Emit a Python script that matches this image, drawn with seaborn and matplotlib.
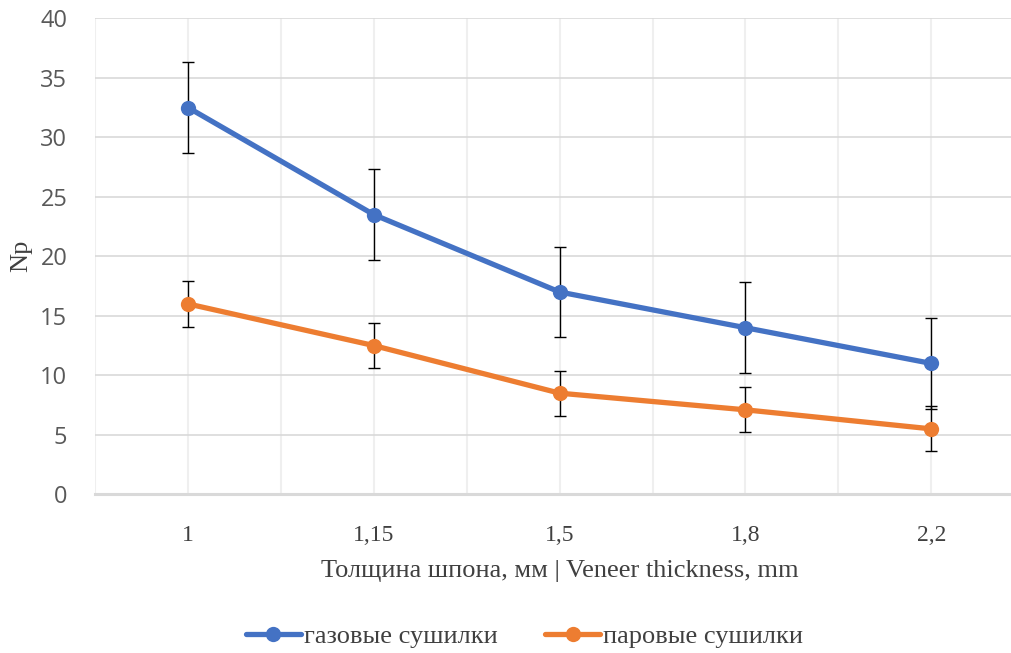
import matplotlib
matplotlib.use('Agg')
import matplotlib.pyplot as plt
import seaborn as sns
import pandas as pd

# Chart data
thickness = ['1', '1,15', '1,5', '1,8', '2,2']
gas_values = [32.5, 23.5, 17.0, 14.0, 11.0]
gas_err = [3.8, 3.8, 3.8, 3.8, 3.8]
steam_values = [16.0, 12.5, 8.5, 7.1, 5.5]
steam_err = [1.9, 1.9, 1.9, 1.9, 1.9]
series_names = ['газовые сушилки', 'паровые сушилки']
colors = ['#4472C4', '#ED7D31']

pos = list(range(len(thickness)))
df = pd.DataFrame({
    'pos': pos + pos,
    'value': gas_values + steam_values,
    'series': [series_names[0]] * len(pos) + [series_names[1]] * len(pos),
})

sns.set_style('white')
fig = plt.figure(figsize=(10.12, 6.53), dpi=100)
ax = fig.add_axes([0.094, 0.243, 0.918, 0.729])

# error bars first, lines and markers on top
for vals, errs in [(gas_values, gas_err), (steam_values, steam_err)]:
    ax.errorbar(pos, vals, yerr=errs, fmt='none', ecolor='black',
                elinewidth=1.0, capsize=4.5, capthick=1.0, zorder=2)

sns.lineplot(data=df, x='pos', y='value', hue='series', palette=colors,
             marker='o', markersize=11, markeredgewidth=0, linewidth=3.8,
             ax=ax, zorder=3, legend=True)

ax.set_xlim(-0.5, 4.5)
ax.set_ylim(0, 40)
ax.set_yticks(range(0, 41, 5))
ax.set_xticks(pos)
ax.set_xticklabels(thickness)
ax.set_xticks([p - 0.5 for p in pos] + [4.5], minor=True)

ax.grid(True, which='major', axis='y', color='#D9D9D9', linewidth=1.2)
ax.grid(True, which='both', axis='x', color='#EFEFEF', linewidth=1.5)
ax.set_axisbelow(True)

for s in ['top', 'right', 'left']:
    ax.spines[s].set_visible(False)
ax.spines['bottom'].set_color('#D9D9D9')
ax.spines['bottom'].set_linewidth(2.2)

ax.tick_params(axis='x', which='major', length=0, pad=22)
ax.tick_params(axis='x', which='minor', length=6, width=1.5, color='#E3E3E3', direction='out')
ax.tick_params(axis='y', length=0, pad=20)

for lab in ax.get_yticklabels():
    lab.set_family('Open Sans')
    lab.set_fontsize(17)
    lab.set_color('#595959')
for lab in ax.get_xticklabels():
    lab.set_family('Liberation Serif')
    lab.set_fontsize(17)
    lab.set_color('#404040')

ax.set_xlabel('Толщина шпона, мм | Veneer thickness, mm', family='Liberation Serif',
              fontsize=19, color='#404040', labelpad=10)
ax.set_ylabel('Np', family='Liberation Serif', fontsize=19, color='#404040', labelpad=6)

handles, labels = ax.get_legend_handles_labels()
ax.legend(handles, labels, loc='center', bbox_to_anchor=(0.462, -0.298),
          ncol=2, frameon=False, handlelength=2.1, handletextpad=0.1, columnspacing=1.8,
          prop={'family': 'Liberation Serif', 'size': 19}, labelcolor='#404040')

fig.savefig('out.png', dpi=100)
